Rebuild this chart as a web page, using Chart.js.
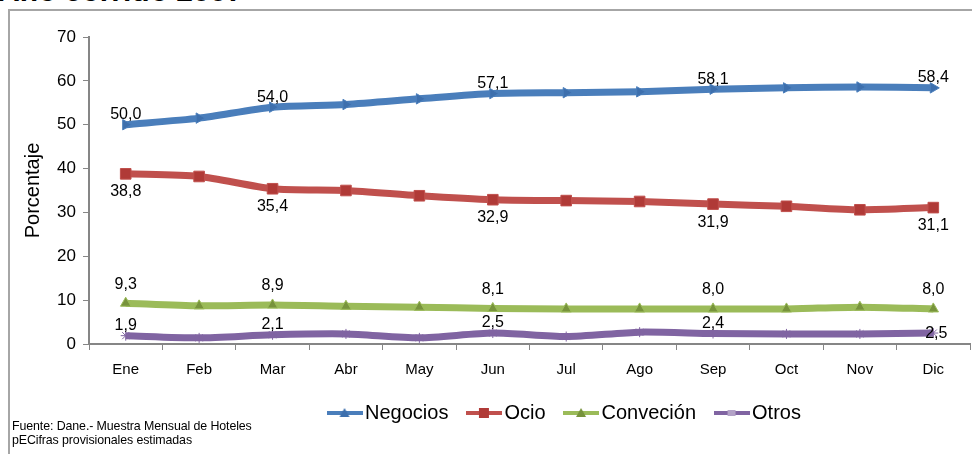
<!DOCTYPE html>
<html>
<head>
<meta charset="utf-8">
<script src="https://cdn.jsdelivr.net/npm/chart.js@4/dist/chart.umd.min.js"></script>
<style>
  body { margin: 0; background: #fff; font-family: "Liberation Sans", Arial, sans-serif; }
  #wrap { position: relative; width: 972px; height: 454px; overflow: hidden; }
  #frame { position: absolute; left: 8px; top: 9px; width: 980px; height: 460px;
           border-left: 2px solid #a6a6a6; border-top: 2px solid #a6a6a6; }
  #title { position: absolute; left: -2px; top: -24px; font-size: 30px; font-weight: bold; line-height: 1; white-space: nowrap; }
  #note { position: absolute; left: 12px; top: 419px; font-size: 12.4px; line-height: 14px; color: #000; letter-spacing: -0.1px; }
  canvas { position: absolute; left: 0; top: 0; }
</style>
</head>
<body>
<div id="wrap">
  <div id="title">Año corrido 2007</div>
  <div id="frame"></div>
  <canvas id="hotelChart" width="972" height="454"></canvas>
  <div id="note">Fuente: Dane.- Muestra Mensual de Hoteles<br>pECifras provisionales estimadas</div>
</div>
<script>
var meses = ['Ene', 'Feb', 'Mar', 'Abr', 'May', 'Jun', 'Jul', 'Ago', 'Sep', 'Oct', 'Nov', 'Dic'];
var negocios = [50.0, 51.5, 54.0, 54.6, 55.9, 57.1, 57.3, 57.5, 58.1, 58.4, 58.6, 58.4];
var ocio = [38.8, 38.2, 35.4, 35.0, 33.8, 32.9, 32.7, 32.5, 31.9, 31.4, 30.6, 31.1];
var convencion = [9.3, 8.7, 8.9, 8.6, 8.4, 8.1, 8.0, 8.0, 8.0, 8.0, 8.4, 8.0];
var otros = [1.9, 1.4, 2.1, 2.3, 1.4, 2.5, 1.7, 2.7, 2.4, 2.3, 2.3, 2.5];
var etiquetados = [0, 2, 5, 8, 11]; // meses con valor escrito

var fontFam = '"Liberation Sans", Arial, sans-serif';

// little legend symbol: line with marker in the middle
function legendIcon(color, markColor, shape) {
    var c = document.createElement('canvas');
    c.width = 36; c.height = 12;
    var g = c.getContext('2d');
    g.strokeStyle = color;
    g.lineWidth = 4;
    g.beginPath(); g.moveTo(0, 6); g.lineTo(36, 6); g.stroke();
    g.fillStyle = markColor;
    if (shape === 'rect') {
        g.fillRect(13, 1, 10, 10);
    } else if (shape === 'triangle') {
        g.beginPath(); g.moveTo(18, 1); g.lineTo(23, 10); g.lineTo(13, 10); g.closePath(); g.fill();
    } else {
        g.fillRect(14, 3, 8, 6);
    }
    return c;
}

// value labels next to the points, Excel style
var valueLabels = {
    id: 'valueLabels',
    afterDatasetsDraw: function(chart) {
        var ctx = chart.ctx;
        ctx.save();
        ctx.font = '16px ' + fontFam;
        ctx.fillStyle = '#000';
        ctx.textAlign = 'center';
        ctx.textBaseline = 'middle';
        chart.data.datasets.forEach(function(ds, i) {
            var meta = chart.getDatasetMeta(i);
            etiquetados.forEach(function(j) {
                var pt = meta.data[j];
                var dy = ds.labelDy;
                var dx = 0;
                if (ds.label === 'Otros' && j === 11) { dy = 1; dx = 3; }
                var txt = ds.data[j].toFixed(1).replace('.', ',');
                ctx.fillText(txt, pt.x + dx, pt.y + dy);
            });
        });
        ctx.restore();
    }
};

// the legend sits a bit right of centre in the original
var legendShift = {
    id: 'legendShift',
    afterLayout: function(chart) {
        chart.legend.left += 74;
        chart.legend.right += 74;
    }
};

var ctx = document.getElementById('hotelChart').getContext('2d');
var hotelChart = new Chart(ctx, {
    type: 'line',
    data: {
        labels: meses,
        datasets: [{
            label: 'Negocios',
            data: negocios,
            borderColor: '#4a7ebb',
            backgroundColor: '#3d6fad',
            pointStyle: 'triangle',
            pointRotation: 90,
            pointRadius: 6,
            labelDy: -10,
            legendIcon: legendIcon('#4a7ebb', '#3d6fad', 'triangle')
        }, {
            label: 'Ocio',
            data: ocio,
            borderColor: '#c0504d',
            backgroundColor: '#b03a37',
            pointStyle: 'rect',
            pointRadius: 7.5,
            labelDy: 18,
            legendIcon: legendIcon('#c0504d', '#b03a37', 'rect')
        }, {
            label: 'Conveción',
            data: convencion,
            borderColor: '#9bbb59',
            backgroundColor: '#77933c',
            pointStyle: 'triangle',
            pointRadius: 6,
            labelDy: -19,
            legendIcon: legendIcon('#9bbb59', '#77933c', 'triangle')
        }, {
            label: 'Otros',
            data: otros,
            borderColor: '#8064a2',
            backgroundColor: '#b3a2c7',
            pointStyle: 'star',
            pointRadius: 5,
            labelDy: -10,
            legendIcon: legendIcon('#8064a2', '#b3a2c7', 'star')
        }]
    },
    options: {
        responsive: false,
        animation: false,
        devicePixelRatio: 1,
        layout: { autoPadding: false, padding: { left: 17, top: 37, right: 2, bottom: 21 } },
        elements: {
            line: { borderWidth: 7, tension: 0.25 },
            point: { borderWidth: 1 }
        },
        plugins: {
            legend: {
                position: 'bottom',
                labels: {
                    usePointStyle: true,
                    pointStyleWidth: 21,
                    padding: 25,
                    color: '#000',
                    font: { size: 20, family: fontFam },
                    generateLabels: function(chart) {
                        return chart.data.datasets.map(function(ds, i) {
                            return {
                                text: ds.label,
                                pointStyle: ds.legendIcon,
                                fillStyle: ds.borderColor,
                                strokeStyle: ds.borderColor,
                                lineWidth: 0,
                                hidden: false,
                                datasetIndex: i
                            };
                        });
                    }
                }
            },
            tooltip: { enabled: false }
        },
        scales: {
            x: {
                offset: true,
                afterFit: function(scale) { scale.height = 34; },
                grid: { offset: true, drawOnChartArea: false, tickLength: 6, color: '#868686' },
                border: { color: '#868686', width: 2 },
                ticks: { color: '#000', padding: 11, font: { size: 15, family: fontFam } }
            },
            y: {
                min: 0,
                max: 70,
                afterFit: function(scale) { scale.width = 72; },
                title: { display: true, text: 'Porcentaje', color: '#000', font: { size: 20, family: fontFam } },
                grid: { drawOnChartArea: false, tickLength: 6, color: '#868686' },
                border: { color: '#868686', width: 2 },
                ticks: { stepSize: 10, color: '#000', padding: 7, font: { size: 17, family: fontFam } }
            }
        }
    },
    plugins: [valueLabels, legendShift]
});
</script>
</body>
</html>
